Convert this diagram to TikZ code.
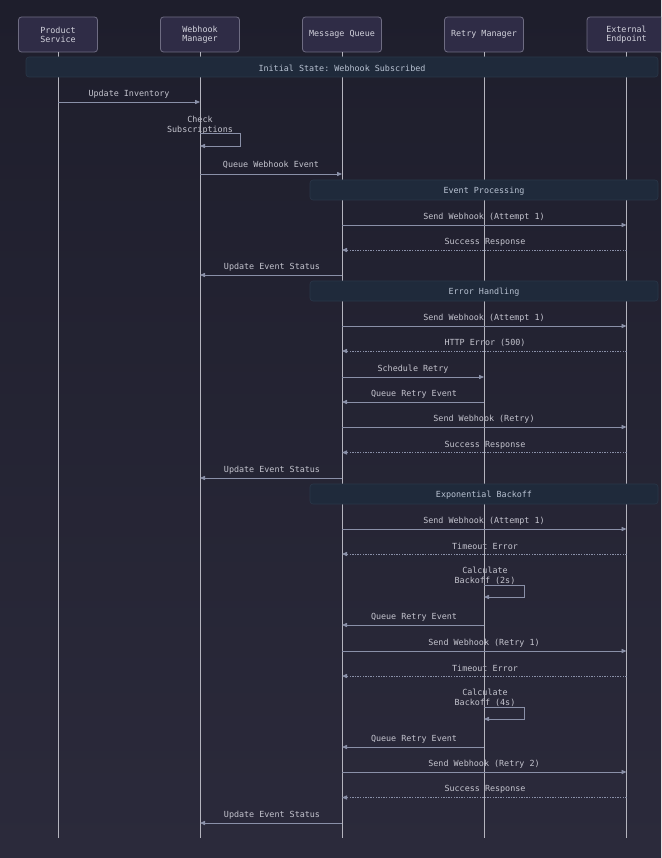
\documentclass[tikz,border=0pt]{standalone}
\usepackage{fontspec}
\setmonofont{DejaVu Sans Mono}
\usetikzlibrary{arrows.meta}
\definecolor{bgtop}{HTML}{1E1E2C}
\definecolor{bgbot}{HTML}{2B2A3B}
\definecolor{boxfill}{HTML}{2F2C46}
\definecolor{boxline}{HTML}{6E6C82}
\definecolor{boxtext}{HTML}{D2D2DC}
\definecolor{lifec}{HTML}{B4B4BE}
\definecolor{msgc}{HTML}{8A90A8}
\definecolor{labc}{HTML}{C4C4CE}
\definecolor{notefill}{HTML}{1F2A3B}
\definecolor{noteline}{HTML}{2A3749}
\definecolor{notetext}{HTML}{B8C2D2}
\tikzset{
  actor/.style={draw=boxline, fill=boxfill, rounded corners=3pt, line width=0.8pt,
    minimum width=79pt, minimum height=35pt, inner sep=0pt, align=center,
    text=boxtext, font=\ttfamily\fontsize{8.4}{9}\selectfont},
  life/.style={draw=lifec, line width=0.9pt},
  msg/.style={draw=msgc, line width=0.8pt, -{Triangle[length=5pt,width=4.2pt]}},
  reply/.style={msg, dash pattern=on 1.3pt off 1.3pt},
  lab/.style={text=labc, font=\ttfamily\fontsize{8.4}{10}\selectfont, align=center, inner sep=0pt, yshift=-0.9pt},
  notebox/.style={draw=noteline, fill=notefill, rounded corners=3pt, line width=0.6pt},
  notelab/.style={text=notetext, font=\ttfamily\fontsize{8.4}{10}\selectfont, inner sep=0pt, yshift=-0.8pt}
}
\begin{document}
\begin{tikzpicture}[x=1pt,y=-1pt]
\useasboundingbox (0,0) rectangle (661,858);
\clip (0,0) rectangle (661,858);
\shade[top color=bgtop, bottom color=bgbot] (0,0) rectangle (661,858);

% actors
\node[actor] (ps) at (58,34.5) {Product\\Service};
\node[actor] (wm) at (200,34.5) {Webhook\\Manager};
\node[actor] (mq) at (342,34.5) {Message Queue};
\node[actor] (rm) at (484,34.5) {Retry Manager};
\node[actor] (ee) at (626.5,34.5) {External\\Endpoint};

% message labels (beneath lifelines)
\node[lab] (l1) at (129,93) {Update Inventory};
\node[lab] (l2) at (200,124) {Check\\Subscriptions};
\node[lab] (l3) at (271,164) {Queue Webhook Event};
\node[lab] (l4) at (484,216) {Send Webhook (Attempt 1)};
\node[lab] (l5) at (485,241) {Success Response};
\node[lab] (l6) at (272,266) {Update Event Status};
\node[lab] (l7) at (484,317) {Send Webhook (Attempt 1)};
\node[lab] (l8) at (485,342) {HTTP Error (500)};
\node[lab] (l9) at (413,368) {Schedule Retry};
\node[lab] (l10) at (414,393) {Queue Retry Event};
\node[lab] (l11) at (484,418) {Send Webhook (Retry)};
\node[lab] (l12) at (485,444) {Success Response};
\node[lab] (l13) at (272,469) {Update Event Status};
\node[lab] (l14) at (484,520) {Send Webhook (Attempt 1)};
\node[lab] (l15) at (485,545) {Timeout Error};
\node[lab] (l16) at (485,575) {Calculate\\Backoff (2s)};
\node[lab] (l17) at (414,616) {Queue Retry Event};
\node[lab] (l18) at (484,642) {Send Webhook (Retry 1)};
\node[lab] (l19) at (485,667) {Timeout Error};
\node[lab] (l20) at (485,697) {Calculate\\Backoff (4s)};
\node[lab] (l21) at (414,738) {Queue Retry Event};
\node[lab] (l22) at (484,763) {Send Webhook (Retry 2)};
\node[lab] (l23) at (485,788) {Success Response};
\node[lab] (l24) at (272,814) {Update Event Status};

% lifelines
\foreach \a in {ps,wm,mq,rm,ee} {
  \coordinate (\a end) at (\a.south |- 0,838);
  \draw[life] (\a.south) -- (\a end);
}

% notes
\draw[notebox] (26,57) rectangle (658,77);
\node[notelab] (n1) at (342,67.5) {Initial State: Webhook Subscribed};
\draw[notebox] (310,180) rectangle (658,200);
\node[notelab] (n2) at (484,190.5) {Event Processing};
\draw[notebox] (310,281) rectangle (658,301);
\node[notelab] (n3) at (484,291.5) {Error Handling};
\draw[notebox] (310,484) rectangle (658,504);
\node[notelab] (n4) at (484,494.5) {Exponential Backoff};

% messages
\draw[msg] (ps.south |- 0,102) -- (wm.south |- 0,102);
\draw[msg] (wm.south |- 0,133) -- (240,133) -- (240,146) -- (wm.south |- 0,146);
\draw[msg] (wm.south |- 0,174) -- (mq.south |- 0,174);
\draw[msg] (mq.south |- 0,225) -- (ee.south |- 0,225);
\draw[reply] (ee.south |- 0,250) -- (mq.south |- 0,250);
\draw[msg] (mq.south |- 0,275) -- (wm.south |- 0,275);
\draw[msg] (mq.south |- 0,326) -- (ee.south |- 0,326);
\draw[reply] (ee.south |- 0,351) -- (mq.south |- 0,351);
\draw[msg] (mq.south |- 0,377) -- (rm.south |- 0,377);
\draw[msg] (rm.south |- 0,402) -- (mq.south |- 0,402);
\draw[msg] (mq.south |- 0,427) -- (ee.south |- 0,427);
\draw[reply] (ee.south |- 0,452.5) -- (mq.south |- 0,452.5);
\draw[msg] (mq.south |- 0,478) -- (wm.south |- 0,478);
\draw[msg] (mq.south |- 0,529) -- (ee.south |- 0,529);
\draw[reply] (ee.south |- 0,554) -- (mq.south |- 0,554);
\draw[msg] (rm.south |- 0,585) -- (524,585) -- (524,597) -- (rm.south |- 0,597);
\draw[msg] (rm.south |- 0,625) -- (mq.south |- 0,625);
\draw[msg] (mq.south |- 0,651) -- (ee.south |- 0,651);
\draw[reply] (ee.south |- 0,676) -- (mq.south |- 0,676);
\draw[msg] (rm.south |- 0,707) -- (524,707) -- (524,719) -- (rm.south |- 0,719);
\draw[msg] (rm.south |- 0,747) -- (mq.south |- 0,747);
\draw[msg] (mq.south |- 0,772) -- (ee.south |- 0,772);
\draw[reply] (ee.south |- 0,797.5) -- (mq.south |- 0,797.5);
\draw[msg] (mq.south |- 0,823) -- (wm.south |- 0,823);
\end{tikzpicture}
\end{document}
